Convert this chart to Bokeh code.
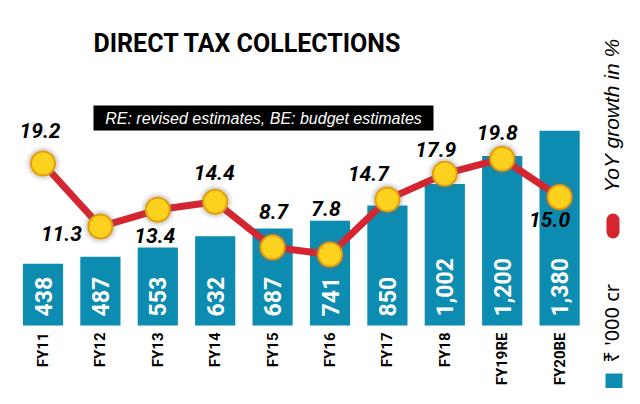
import math
from bokeh.plotting import figure
from bokeh.models import Range1d
from bokeh.core.properties import value
from bokeh.embed import file_html
from bokeh.resources import INLINE

# ---- data -------------------------------------------------------------
categories = ["FY11", "FY12", "FY13", "FY14", "FY15", "FY16", "FY17", "FY18", "FY19RE", "FY20BE"]
collections = [438, 487, 553, 632, 687, 741, 850, 1002, 1200, 1380]   # Rs '000 cr
growth = [19.2, 11.3, 13.4, 14.4, 8.7, 7.8, 14.7, 17.9, 19.8, 15.0]    # YoY growth %

# label placement (screen px offsets of each growth label from its point)
label_dx = [-3, -39, -3, -1, 1, -4, -19, -9, -5, -10]
label_dy = [-33, 7, 26, -29, -36, -46, -26, -24, -26, 22]

TEAL = "#0b8cb0"
RED = "#d42530"
YELLOW = "#fdd21f"
RING = "#e69c0a"
BOLD = "Roboto"
FONT = "Liberation Sans"

W, H = 624, 388
xs = list(range(len(categories)))

# scale geometry (pixels)
X0, XSTEP = 42.5, 57.4       # centre of first bar, bar spacing
BASE, BAR_PX = 325, 0.1412   # bar baseline, px per Rs '000 cr
G_VAL, G_Y, G_PX = 19.2, 163, 7.98


def fx(px):
    return (px - X0) / XSTEP


def fy(py):
    return (BASE - py) / BAR_PX


def fg(py):
    return G_VAL + (G_Y - py) / G_PX


p = figure(width=W, height=H, output_backend="svg", toolbar_location=None,
           x_range=Range1d(fx(0), fx(W)), y_range=Range1d(fy(H), fy(0)),
           x_axis_location=None, y_axis_location=None,
           min_border_left=0, min_border_right=0, min_border_top=0, min_border_bottom=0)
p.extra_y_ranges = {"g": Range1d(fg(H), fg(0))}
p.grid.visible = False
p.outline_line_color = None
p.background_fill_color = "white"
p.border_fill_color = "white"

# bars
p.vbar(x=xs, top=collections, bottom=0, width=0.7, fill_color=TEAL, line_color=None)
p.text(x=xs, y=[0] * len(xs), text=[f"{v:,}" for v in collections], angle=math.pi / 2,
       text_align="left", text_baseline="middle", y_offset=-9,
       text_font=value(BOLD), text_font_style="bold", text_font_size="23px",
       text_color="white")

# category labels under the bars
p.text(x=xs, y=[0] * len(xs), text=categories, angle=math.pi / 2,
       text_align="right", text_baseline="middle", y_offset=7,
       text_font=value(BOLD), text_font_style="bold", text_font_size="15px",
       text_color="black")

# growth line
p.line(xs, growth, y_range_name="g", line_width=7, line_color=RED, line_join="round")
p.scatter(xs, growth, y_range_name="g", size=35, fill_color="#777777", fill_alpha=0.10, line_color=None)
p.scatter(xs, growth, y_range_name="g", size=30, fill_color="#777777", fill_alpha=0.18, line_color=None)
p.scatter(xs, growth, y_range_name="g", size=24, fill_color=YELLOW, line_color=RING, line_width=2)
p.text(x=xs, y=growth, y_range_name="g", text=[f"{v:.1f}" for v in growth],
       x_offset=label_dx, y_offset=label_dy, text_align="center", text_baseline="middle",
       text_font=value(BOLD), text_font_style="bold italic",
       text_font_size="21px", text_color="black")

# title
p.text(x=[fx(93)], y=[fy(43)], text=["DIRECT TAX COLLECTIONS"],
       text_align="left", text_baseline="alphabetic",
       text_font=value(BOLD), text_font_style="bold", text_font_size="25px",
       text_color="black")

# note box
p.rect(x=[fx(263)], y=[fy(117.5)], width=340, height=25, width_units="screen",
       height_units="screen", fill_color="black", line_color=None)
p.text(x=[fx(263)], y=[fy(118)], text=["RE: revised estimates, BE: budget estimates"],
       text_align="center", text_baseline="middle",
       text_font=value(FONT), text_font_style="italic", text_font_size="16px",
       text_color="white")

# legend (right edge)
p.segment(x0=[fx(612.5)], y0=[fy(219.5)], x1=[fx(612.5)], y1=[fy(231.5)],
          line_width=13, line_cap="round", line_color=RED)
p.text(x=[fx(610.5)], y=[fy(192)], text=["YoY growth in %"], angle=math.pi / 2,
       text_align="left", text_baseline="middle",
       text_font=value(FONT), text_font_style="italic", text_font_size="21px",
       text_color="black")
p.text(x=[fx(610.5)], y=[fy(362)], text=["\u20b9 '000 cr"], angle=math.pi / 2,
       text_align="left", text_baseline="middle",
       text_font=value("Noto Sans"), text_font_size="20px", text_color="black")
p.rect(x=[fx(613.5)], y=[fy(382)], width=17, height=18, width_units="screen",
       height_units="screen", fill_color=TEAL, line_color=None)

open("out.html", "w").write(file_html(p, INLINE))
